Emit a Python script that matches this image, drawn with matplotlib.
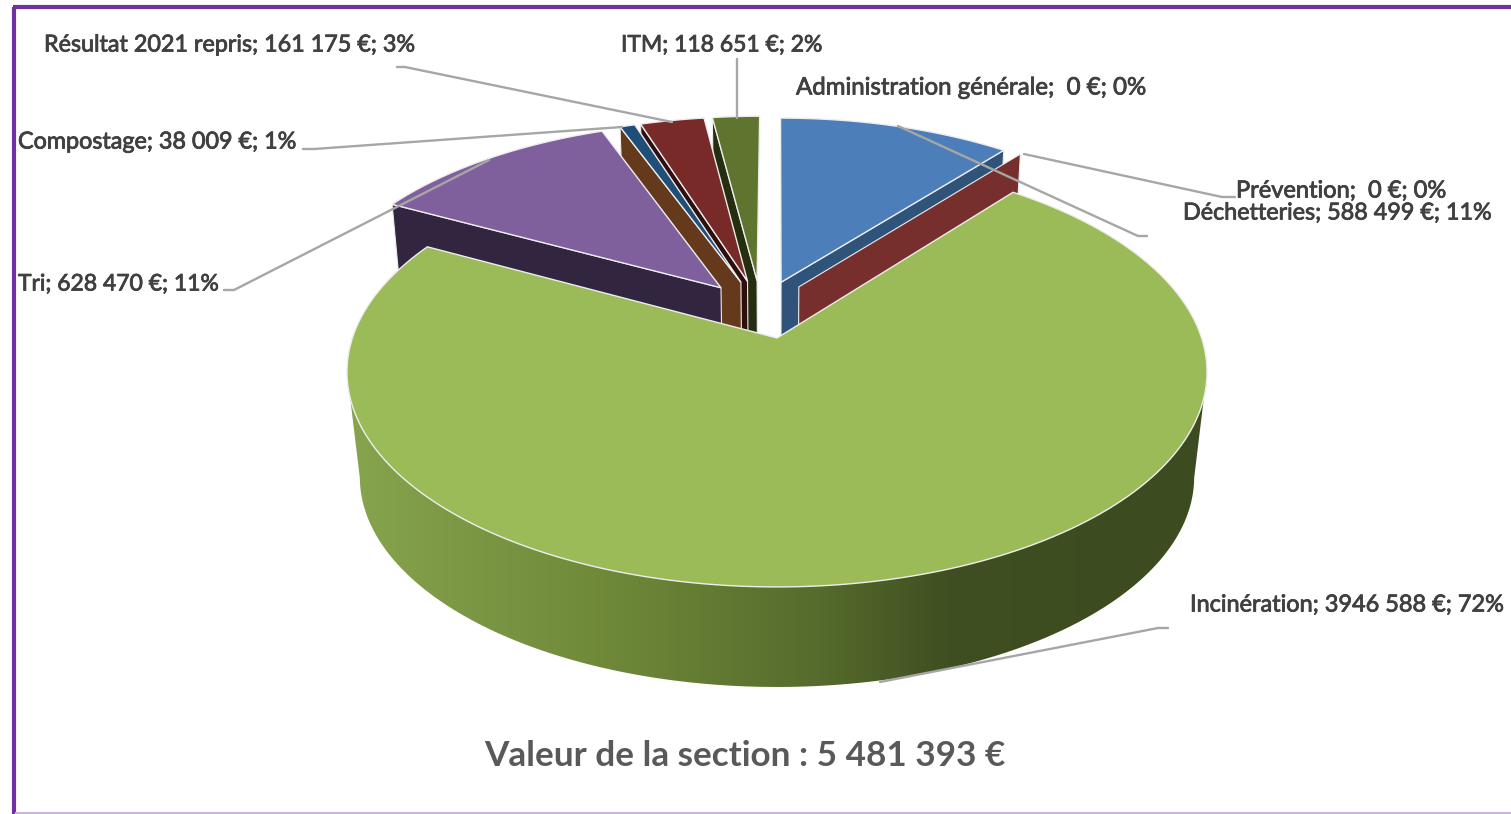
import numpy as np
import matplotlib
matplotlib.use("Agg")
import matplotlib.pyplot as plt
import matplotlib.patheffects as pe
from matplotlib.colors import LinearSegmentedColormap
from matplotlib.patches import Polygon

# Donnees
noms = ["Administration générale", "Déchetteries", "Prévention", "Incinération",
        "Tri", "Compostage", "Résultat 2021 repris", "ITM"]
valeurs = [0, 588499, 0, 3946588, 628470, 38009, 161175, 118651]
etiquettes = ["Administration générale;  0 €; 0%", "Déchetteries; 588 499 €; 11%",
              "Prévention;  0 €; 0%", "Incinération; 3946 588 €; 72%",
              "Tri; 628 470 €; 11%", "Compostage; 38 009 €; 1%",
              "Résultat 2021 repris; 161 175 €; 3%", "ITM; 118 651 €; 2%"]
titre = "Valeur de la section : 5 481 393 €"

# Couleurs dessus / tranche
c_dessus = ["#4F81BD", "#4C7EBA", "#772C2A", "#9BBB59", "#7F609C", "#1F4E79", "#772A28", "#5F752F"]
c_tranche = ["#2F5379", "#2F5379", "#772F2D", "#5A6F30", "#312540", "#65391B", "#2E0F0E", "#252F10"]

# Position des etiquettes et traits de rappel
pos_etiquettes = [(796, 88), (1183, 213), (1236, 191), (1190, 605), (18, 284), (18, 142), (44, 45), (621, 45)]
tailles = [17.3, 16.8, 17, 16.9, 16.5, 16.8, 16.8, 16.5]
traits = [[(1147, 236), (1138, 236), (898, 126)],
          [(1235, 197), (1222, 197), (1024, 154)],
          [(1168, 628), (1158, 628), (880, 682)],
          [(224, 290), (234, 290), (489, 160)],
          [(303, 149), (314, 149), (622, 127)],
          [(397, 67), (405, 67), (672, 122)],
          [(737, 59), (737, 118)]]

# Projection du disque incline, perspective (origine = pointe de la part verte)
CX, CY = 777, 338
A, B, C, K, M, S = 424.6, 209.6, 110.0, 0.158, 0.03, 0.073
ECART = 0.148
ORIGINE = (-0.039, 0.138)


def projeter(u, v, z=0.0):
    w = 1 + K * np.asarray(v) + M * z
    return np.column_stack([CX + A * np.asarray(u) / w,
                            CY - (B * (1 - S * z) * np.asarray(v) - C * z) / w])


fig = plt.figure(figsize=(15.11, 8.14), dpi=100)
ax = fig.add_axes([0, 0, 1, 1])
ax.set_xlim(0, 1511)
ax.set_ylim(814, 0)
ax.axis("off")

total = sum(valeurs)
angles = np.radians(np.cumsum([0] + valeurs) / total * 360)
EDGE = "#EDEDED"


def centre_part(i):
    mil = (angles[i] + angles[i + 1]) / 2
    return ORIGINE[0] + ECART * np.sin(mil), ORIGINE[1] + ECART * np.cos(mil)


def dessus(i, r, zo):
    u0, v0 = centre_part(i)
    if i == 3:
        u0, v0 = 0.0, 0.0
    t = np.linspace(angles[i], angles[i + 1], 200)
    u = np.r_[u0, u0 + r * np.sin(t)]
    v = np.r_[v0, v0 + r * np.cos(t)]
    ax.add_patch(Polygon(projeter(u, v), closed=True, fc=c_dessus[i], ec=EDGE, lw=1.0, zorder=zo))


def mur(i, r, zo, angle):
    u0, v0 = centre_part(i)
    u = np.array([u0, u0 + r * np.sin(angle)])
    v = np.array([v0, v0 + r * np.cos(angle)])
    pts = np.vstack([projeter(u, v), projeter(u[::-1], v[::-1], 1.0)])
    ax.add_patch(Polygon(pts, closed=True, fc=c_tranche[i], ec=EDGE, lw=0.8, zorder=zo))


# parts de droite
mur(1, 0.98, 2, angles[2])
dessus(1, 0.98, 3)
mur(2, 0.98, 4, angles[2])

# parts de gauche, de l'arriere vers l'avant
zo = 5
for i in [7, 6, 5, 4]:
    mur(i, 0.985, zo, angles[i])
    dessus(i, 0.985, zo + 1)
    zo += 2

# flanc de la part verte avec degrade, seulement la partie visible
# (entre les deux tangentes, sinon le polygone se recoupe et laisse un trou)
tangente = np.arccos(-K)
t = np.linspace(tangente, 2 * np.pi - tangente, 300)
haut = projeter(np.sin(t), np.cos(t))
bas = projeter(np.sin(t), np.cos(t), 1.0)
flanc = Polygon(np.vstack([haut, bas[::-1]]), closed=True, fc="none", ec="none", zorder=20)
ax.add_patch(flanc)
degrade = LinearSegmentedColormap.from_list("flanc", [(0, "#87A44E"), (0.3, "#6F8939"), (0.55, "#566B2C"),
                                                      (0.70, "#3F4F21"), (1, "#3D4B20")])
img = ax.imshow(np.linspace(0, 1, 512)[None, :], cmap=degrade, aspect="auto",
                extent=(346, 1207, 700, 200), zorder=20)
img.set_clip_path(flanc)
ax.set_xlim(0, 1511)
ax.set_ylim(814, 0)
dessus(3, 1.0, 21)

# traits de rappel
for tr in traits:
    xs, ys = zip(*tr)
    ax.plot(xs, ys, color="#A6A6A6", lw=1.7, zorder=30, solid_capstyle="round")

# etiquettes
for txt, (x, y), fs in zip(etiquettes, pos_etiquettes, tailles):
    ax.text(x, y, txt, fontsize=fs, family="Lato", color="#404040", ha="left", va="center", zorder=40,
            path_effects=[pe.withStroke(linewidth=0.6, foreground="#404040")])
ax.text(745, 756, titre, fontsize=25.3, family="Lato", weight="bold", color="#595959",
        ha="center", va="center", zorder=40)

# cadre violet
ax.plot([14, 14], [814, 7], color="#7030A0", lw=3, zorder=50, solid_capstyle="butt")
ax.plot([12.5, 1511], [7, 7], color="#7030A0", lw=3, zorder=50, solid_capstyle="butt")
ax.plot([16, 1511], [812.5, 812.5], color="#C9B5DC", lw=1.5, zorder=50)

fig.savefig("out.png", dpi=100)
